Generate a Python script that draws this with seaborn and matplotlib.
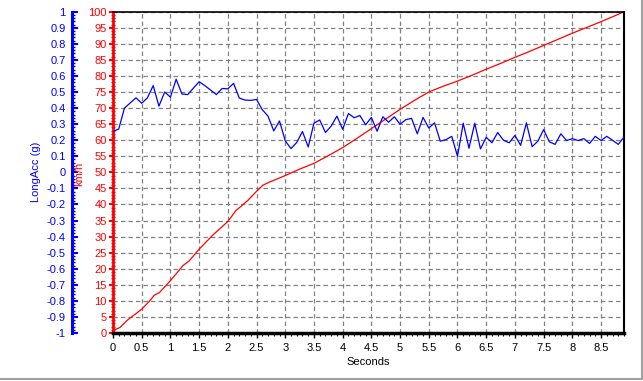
import numpy as np
import pandas as pd
import seaborn as sns
import matplotlib.pyplot as plt
from matplotlib.ticker import MultipleLocator, FuncFormatter
from matplotlib.lines import Line2D

# LongAcc (g), one sample every 0.1 s
acc_t = np.round(np.arange(0, 9.0, 0.1), 1)
acc_g = [0.254, 0.27, 0.40, 0.432, 0.464, 0.43, 0.464, 0.54, 0.412, 0.50,
         0.468, 0.58, 0.488, 0.484, 0.524, 0.564, 0.54, 0.512, 0.484, 0.522,
         0.52, 0.554, 0.462, 0.45, 0.448, 0.454, 0.39, 0.35, 0.258, 0.32,
         0.196, 0.148, 0.186, 0.254, 0.158, 0.306, 0.326, 0.248, 0.288, 0.35,
         0.268, 0.366, 0.34, 0.354, 0.296, 0.342, 0.256, 0.346, 0.312, 0.346,
         0.30, 0.328, 0.336, 0.24, 0.342, 0.276, 0.308, 0.194, 0.204, 0.224,
         0.10, 0.306, 0.15, 0.306, 0.146, 0.218, 0.184, 0.248, 0.20, 0.184,
         0.23, 0.168, 0.308, 0.16, 0.194, 0.266, 0.19, 0.174, 0.24, 0.198,
         0.21, 0.198, 0.21, 0.18, 0.224, 0.198, 0.224, 0.20, 0.174, 0.22]

# speed (km/h)
speed_t = [0.0, 0.12, 0.25, 0.5, 0.64, 0.72, 0.81, 1.0, 1.22, 1.33, 1.5, 1.74,
           2.0, 2.14, 2.26, 2.35, 2.5, 2.61, 2.73, 3.0, 3.25, 3.5, 3.75, 4.0,
           4.25, 4.5, 4.75, 5.0, 5.25, 5.5, 5.75, 6.0, 6.25, 6.5, 6.75, 7.0,
           7.25, 7.5, 7.75, 8.0, 8.25, 8.5, 8.75, 8.9]
speed_kmh = [0.8, 1.7, 4.0, 7.4, 10.0, 11.8, 12.6, 16.3, 21.0, 22.5, 26.1, 30.5,
             34.7, 38.1, 39.9, 41.3, 44.1, 46.0, 47.0, 49.0, 51.0, 52.8, 55.2, 57.7,
             60.6, 63.6, 66.6, 69.6, 72.4, 75.0, 76.8, 78.4, 80.2, 82.1, 83.9, 85.8,
             87.6, 89.5, 91.4, 93.3, 95.1, 96.9, 98.8, 100.0]

sns.set_style("white")
plt.rcParams['font.family'] = ['Liberation Sans', 'DejaVu Sans']
plt.rcParams['font.size'] = 8

RED = '#ff0000'
BLUE = '#0000ff'

fig = plt.figure(figsize=(6.43, 3.81), dpi=100)
ax = fig.add_axes([113 / 643, 48 / 381, 511 / 643, 321.3 / 381])
ax2 = ax.twinx()

sns.lineplot(x=speed_t, y=speed_kmh, ax=ax, color=RED, lw=0.9)
sns.lineplot(x=acc_t, y=acc_g, ax=ax2, color=BLUE, lw=0.9)

ax.set_xlim(0, 8.9)
ax.set_ylim(0, 100)
ax2.set_ylim(-1, 1)

fmt = FuncFormatter(lambda v, p: f'{round(v, 2) + 0:g}')

# x axis
ax.xaxis.set_major_locator(MultipleLocator(0.5))
ax.xaxis.set_minor_locator(MultipleLocator(0.1))
ax.xaxis.set_major_formatter(fmt)
ax.tick_params(axis='x', which='major', direction='out', length=3.5, width=1,
               color='black', labelcolor='black', labelsize=8, pad=3.5, bottom=True)
ax.tick_params(axis='x', which='minor', direction='out', length=2, width=0.8,
               color='black', bottom=True)

# km/h axis (red)
ax.yaxis.set_major_locator(MultipleLocator(5))
ax.yaxis.set_minor_locator(MultipleLocator(1))
ax.yaxis.set_major_formatter(fmt)
ax.tick_params(axis='y', which='major', direction='out', length=3, width=1.5,
               color=RED, labelcolor=RED, labelsize=8, pad=1.5, left=True)
ax.tick_params(axis='y', which='minor', direction='inout', length=2.5, width=1,
               color=RED, left=True)

# LongAcc axis (blue), placed left of km/h axis
ax2.yaxis.tick_left()
ax2.spines['left'].set_position(('outward', 29.5))
ax2.yaxis.set_major_locator(MultipleLocator(0.1))
ax2.yaxis.set_minor_locator(MultipleLocator(0.02))
ax2.yaxis.set_major_formatter(fmt)
ax2.tick_params(axis='y', which='major', direction='in', length=4, width=1.5,
                color=BLUE, labelcolor=BLUE, labelsize=8, pad=4.5, left=True, right=False)
ax2.tick_params(axis='y', which='minor', direction='in', length=2.5, width=1,
                color=BLUE, left=True, right=False)

for s in ['right', 'top', 'bottom']:
    ax2.spines[s].set_visible(False)
ax2.spines['left'].set_color(BLUE)
ax2.spines['left'].set_linewidth(2.2)

ax.spines['left'].set_color(RED)
ax.spines['left'].set_linewidth(2)
ax.spines['bottom'].set_color('black')
ax.spines['bottom'].set_linewidth(2.5)
ax.spines['top'].set_color('black')
ax.spines['top'].set_linewidth(1.2)
ax.spines['right'].set_color('black')
ax.spines['right'].set_linewidth(1.5)

ax.grid(True, which='major', color='#808080', linestyle=(0, (3.5, 2.5)), lw=0.9)

# axis titles
ax.set_xlabel('')
ax.set_ylabel('')
ax2.set_ylabel('')
fig.text(368 / 643, 1 - 362 / 381, 'Seconds', ha='center', va='center',
         fontsize=8, color='black')
fig.text(79 / 643, 1 - 174 / 381, 'km/h', rotation=90, ha='center', va='center',
         fontsize=8, color=RED)
fig.text(36 / 643, 1 - 172 / 381, 'LongAcc (g)', rotation=90, ha='center', va='center',
         fontsize=8, color=BLUE)

# window frame
fig.add_artist(Line2D([641.5 / 643, 641.5 / 643], [2 / 381, 1], color='#a0a0a0', lw=1.5))
fig.add_artist(Line2D([0, 641.5 / 643], [2 / 381, 2 / 381], color='#a0a0a0', lw=1.5))

fig.savefig('out.png', dpi=100)
